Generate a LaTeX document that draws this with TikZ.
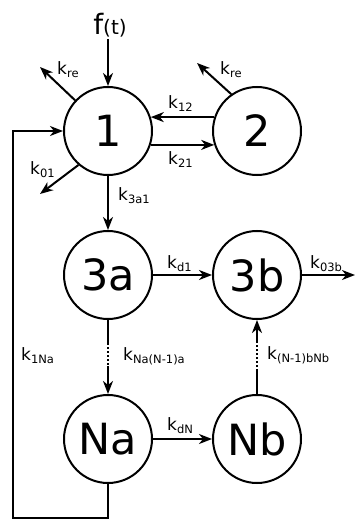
\documentclass[tikz,border=0pt]{standalone}
\usepackage{fontspec}
\setmainfont{DejaVu Sans}
\usetikzlibrary{arrows.meta,calc}
\tikzset{
  comp/.style={circle,draw=black,line width=2pt,minimum size=88pt,inner sep=0pt,font=\fontsize{43}{43}\selectfont}, % compartment
  flow/.style={-{Stealth[length=13pt,width=10pt,inset=4pt]},line width=2pt}, % transfer
  pipe/.style={line width=2pt},
  gap/.style={line width=2pt,dotted},
  rate/.style={anchor=west,inner sep=0pt,font=\fontsize{17}{17}\selectfont},
}
\newcommand{\kr}[1]{k\raisebox{-3pt}{\fontsize{11.5}{11.5}\selectfont#1}}

\begin{document}
\begin{tikzpicture}[x=1pt,y=-1pt]
  \useasboundingbox (0,0) rectangle (355,521);
  % compartments
  \node[comp] (n1)  at (108,131) {1};
  \node[comp] (n2)  at (257,131) {2};
  \node[comp] (n3a) at (108,275) {3a};
  \node[comp] (n3b) at (257,275) {3b};
  \node[comp] (nNa) at (108,439) {Na};
  \node[comp] (nNb) at (257,439) {Nb};
  % input
  \node[inner sep=0pt] (ft) at (110,25) {\fontsize{28}{28}\selectfont f\fontsize{20}{20}\selectfont(t)};
  \coordinate (fin) at (108,39);
  \draw[flow] (fin) -- (n1.north);
  % losses
  \coordinate (re1) at (40,67);
  \coordinate (re2) at (197,63);
  \coordinate (o1) at (40,194);
  \coordinate (o3b) at (355,275);
  \draw[flow] (n1.137) -- (re1);
  \draw[flow] (n2.125) -- (re2);
  \draw[flow] (n1.229) -- (o1);
  \draw[flow] (n3b.east) -- (o3b);
  % exchange
  \draw[flow] (n2.162) -- (n1.18);
  \draw[flow] (n1.-18) -- (n2.198);
  \draw[flow] (n1.south) -- (n3a.north);
  \draw[flow] (n3a.east) -- (n3b.west);
  \draw[flow] (nNa.east) -- (nNb.west);
  % chains
  \draw[pipe] (n3a.south) -- ++(0,23) coordinate (a1);
  \draw[gap] (a1) -- ++(0,23) coordinate (a2);
  \draw[flow] (a2) -- (nNa.north);
  \draw[pipe] (nNb.north) -- ++(0,-23) coordinate (b1);
  \draw[gap] (b1) -- ++(0,-29) coordinate (b2);
  \draw[flow] (b2) -- (n3b.south);
  % recycling
  \coordinate (fb) at (13,518);
  \draw[flow] (nNa.south) |- (fb) |- (n1.west);
  % rate labels
  \node[rate] (l1)  at (57,70)   {\kr{re}};
  \node[rate] (l2)  at (220,70)  {\kr{re}};
  \node[rate] (l3)  at (168,104) {\kr{12}};
  \node[rate] (l4)  at (168,160) {\kr{21}};
  \node[rate] (l5)  at (30,170)  {\kr{01}};
  \node[rate] (l6)  at (118,196) {\kr{3a1}};
  \node[rate] (l7)  at (167,264) {\kr{d1}};
  \node[rate] (l8)  at (310,264) {\kr{03b}};
  \node[rate] (l9)  at (123,356) {\kr{Na(N-1)a}};
  \node[rate] (l10) at (267,355) {\kr{(N-1)bNb}};
  \node[rate] (l11) at (21,356)  {\kr{1Na}};
  \node[rate] (l12) at (167,426) {\kr{dN}};
\end{tikzpicture}
\end{document}
